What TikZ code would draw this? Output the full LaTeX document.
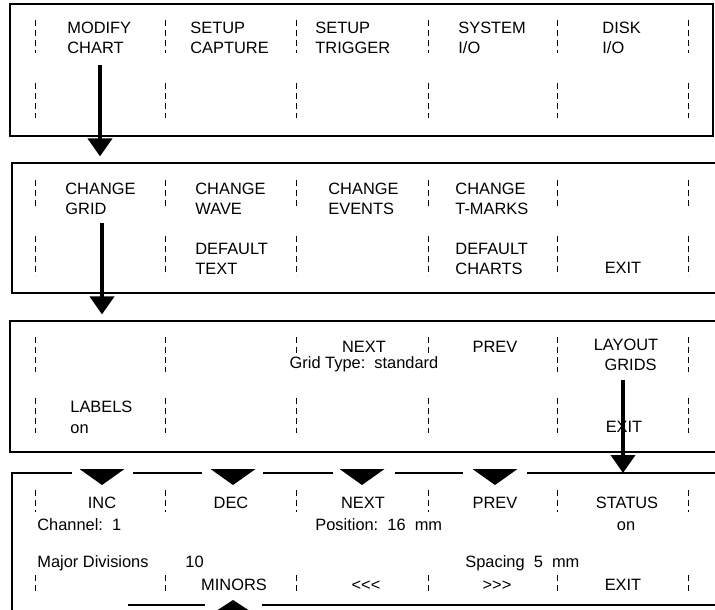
\documentclass[tikz,border=0pt]{standalone}
\usepackage{fontspec}
\setmainfont{Liberation Sans}
\usetikzlibrary{arrows.meta, positioning, calc}
\newcommand\menufont{\fontsize{8.2pt}{10pt}\selectfont}

\begin{document}
\begin{tikzpicture}[
    x=0.5pt, y=-0.5pt,
    every node/.style={font=\menufont, inner sep=0pt},
    key/.style={anchor=base west, align=left},
    keyc/.style={anchor=base, align=center},
    panel/.style={draw, line width=0.6pt, inner sep=0pt},
    sepline/.style={densely dashed, line width=0.4pt},
    flow/.style={-{Triangle[width=12pt, length=9pt]}, line width=2pt},
    tab/.style={fill=black}
  ]
  \useasboundingbox (0,0) rectangle (715,609);
  \clip (0,0) rectangle (715,609);

  % panels
  \node[panel, minimum width=351.5pt, minimum height=66pt] (p1) at (361.5,70) {};
  \node[panel, minimum width=352pt, minimum height=65pt] (p2) at (364,228) {};
  \node[panel, minimum width=353pt, minimum height=65.5pt] (p3) at (363,386.5) {};

  % separators
  \foreach \x in {35,165,296,428,557,688} {
    \draw[sepline] (\x,20) -- (\x,53);
    \draw[sepline] (\x,83) -- (\x,118);
    \draw[sepline] (\x,180) -- (\x,208);
    \draw[sepline] (\x,236) -- (\x,276);
    \draw[sepline] (\x,398) -- (\x,433);
    \draw[sepline] (\x,490) -- (\x,512);
    \draw[sepline] (\x,575) -- (\x,595);
  }
  \foreach \x in {35,165,557,688}
    \draw[sepline] (\x,337) -- (\x,372);
  \foreach \x in {296,428}
    \draw[sepline] (\x,337) -- (\x,353);

  % main menu (base = last line)
  \node[key] (modify) at (67,54) {MODIFY\\CHART};
  \node[key] (capture) at (190,54) {SETUP\\CAPTURE};
  \node[key] (trigger) at (315,54) {SETUP\\TRIGGER};
  \node[key] (sysio) at (458,54) {SYSTEM\\I/O};
  \node[key] (diskio) at (602,54) {DISK\\I/O};

  % chart menu
  \node[key] (chgrid) at (65,214) {CHANGE\\GRID};
  \node[key] (chwave) at (195,214) {CHANGE\\WAVE};
  \node[key] (chevents) at (328,214) {CHANGE\\EVENTS};
  \node[key] (chtmarks) at (455,214) {CHANGE\\T-MARKS};
  \node[key] (deftext) at (195,274) {DEFAULT\\TEXT};
  \node[key] (defcharts) at (455,274) {DEFAULT\\CHARTS};
  \node[keyc] (exitb) at (623,273) {EXIT};

  % grid menu
  \node[keyc] (nextc) at (364,352) {NEXT};
  \node[keyc] (gridtype) at (364,368) {Grid Type:\ \ standard};
  \node[keyc] (prevc) at (495,352) {PREV};
  \node[keyc] (layout) at (626,370) {LAYOUT\\\ \ GRIDS};
  \node[key] (labels) at (70,412) {LABELS};
  \node[key] (labelson) at (70,433) {on};
  \node[keyc] (exitc) at (624,432) {EXIT};

  % layout menu
  \node[keyc] (inc) at (102,508) {INC};
  \node[keyc] (dec) at (231,508) {DEC};
  \node[keyc] (nextd) at (363,508) {NEXT};
  \node[keyc] (prevd) at (495,508) {PREV};
  \node[keyc] (status) at (627,508) {STATUS};
  \node[keyc] (statuson) at (626,530) {on};
  \node[key] (channel) at (37,530) {Channel:\ \ 1};
  \node[key] (position) at (315,530) {Position:\ \ 16\ \ mm};
  \node[key] (major) at (37,567) {Major Divisions};
  \node[key] (majorval) at (185,567) {10};
  \node[key] (spacing) at (465,567) {Spacing\ \ 5\ \ mm};
  \node[keyc] (minors) at (234,590) {MINORS};
  \node[keyc] (back) at (366,590) {<{}<{}<};
  \node[keyc] (fwd) at (497,590) {>{}>{}>};
  \node[keyc] (exitd) at (623,590) {EXIT};

  % open frame of the last panel
  \coordinate (p4top) at (623,473);
  \draw[line width=0.6pt] (72,473) -- (12,473) -- (12,612);
  \foreach \a/\b in {133/202,263/333,395/463,527/716}
    \draw[line width=0.6pt] (\a,473) -- (\b,473);
  \foreach \x in {102,233,362,495}
    \fill[tab] (\x-22.5,469) -- (\x+22.5,469) -- (\x,485) -- cycle;
  \draw[line width=0.6pt] (128,605) -- (205,605);
  \draw[line width=0.6pt] (262,605) -- (716,605);
  \fill[tab] (233,600) -- (210,615) -- (256,615) -- cycle;

  % flow arrows
  \coordinate (a1) at (100,65);
  \coordinate (a2) at (102,223);
  \coordinate (a3) at (623,380);
  \draw[flow, shorten >=3pt] (a1) -- (a1 |- p2.north);
  \draw[flow, shorten >=3pt] (a2) -- (a2 |- p3.north);
  \draw[flow] (a3) -- (p4top);
\end{tikzpicture}
\end{document}
